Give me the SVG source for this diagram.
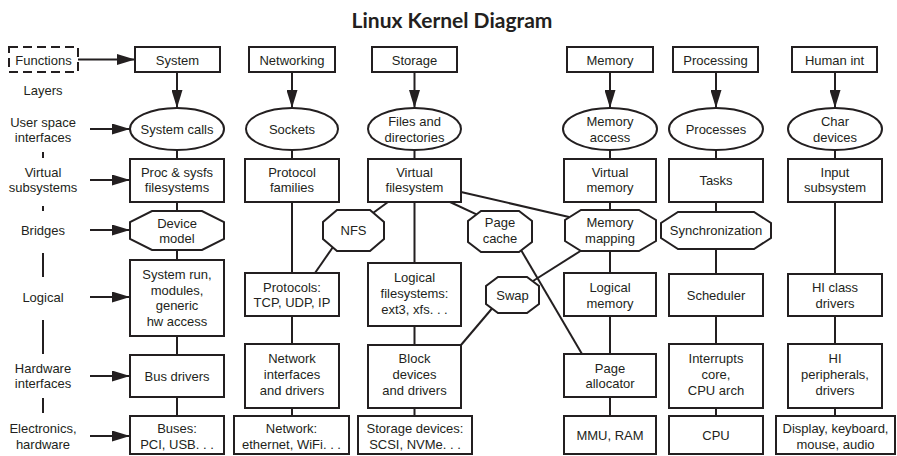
<svg xmlns="http://www.w3.org/2000/svg" width="897" height="456" viewBox="0 0 897 456">
<style>
.b{fill:#fff;stroke:#231f20;stroke-width:2}
.d{fill:#fff;stroke:#231f20;stroke-width:2;stroke-dasharray:9 5}
.t{font-family:"Liberation Sans",Arial,sans-serif;font-size:13px;fill:#231f20;text-anchor:middle}
.h{font-family:Lato,"Liberation Sans",sans-serif;font-size:21px;font-weight:bold;fill:#231f20;text-anchor:middle}
.l{stroke:#231f20;stroke-width:2;fill:none}
.a{stroke:#231f20;stroke-width:2;fill:none;marker-end:url(#arr)}
</style>
<defs>
<marker id="arr" viewBox="0 0 18 11" refX="18" refY="5.5" markerWidth="18" markerHeight="11" markerUnits="userSpaceOnUse" orient="auto">
<path d="M0,0 L18,5.5 L0,11 z" fill="#231f20"/>
</marker>
</defs>
<rect width="897" height="456" fill="#fff"/>
<text class="h" x="452" y="28">Linux Kernel Diagram</text>

<g id="connectors">
<line class="a" x1="78" y1="59.5" x2="135" y2="59.5"/>
<line class="a" x1="90" y1="129" x2="130" y2="129"/>
<line class="a" x1="90" y1="180" x2="130" y2="180"/>
<line class="a" x1="90" y1="230" x2="130" y2="230"/>
<line class="a" x1="90" y1="297" x2="130" y2="297"/>
<line class="a" x1="90" y1="376" x2="130" y2="376"/>
<line class="a" x1="90" y1="436" x2="130" y2="436"/>
<line class="l" x1="43" y1="152" x2="43" y2="158"/>
<line class="l" x1="43" y1="206" x2="43" y2="211"/>
<line class="l" x1="43" y1="253" x2="43" y2="277"/>
<line class="l" x1="43" y1="320" x2="43" y2="354"/>
<line class="l" x1="43" y1="398" x2="43" y2="413"/>
<line class="a" x1="177" y1="72" x2="177" y2="108"/>
<line class="a" x1="292" y1="72" x2="292" y2="108"/>
<line class="a" x1="414.5" y1="72" x2="414.5" y2="108"/>
<line class="a" x1="610" y1="72" x2="610" y2="108"/>
<line class="a" x1="716" y1="72" x2="716" y2="108"/>
<line class="a" x1="835" y1="72" x2="835" y2="108"/>
<path class="l" d="M177,150V159M177,202V211M177,250V260M177,336V355M177,397V416"/>
<path class="l" d="M292,150V159M292,202V273M292,316V344M292,408V416"/>
<path class="l" d="M414.5,150V159M414.5,202V263M414.5,326V345M414.5,408V416"/>
<path class="l" d="M610,150V159M610,202V210M610,251V273M610,316V354M610,397V416"/>
<path class="l" d="M716,150V159M716,202V212M716,249V274M716,316V344M716,408V416"/>
<path class="l" d="M835,150V159M835,202V274M835,316V344M835,408V416"/>
<line class="l" x1="388" y1="202" x2="373" y2="213"/>
<line class="l" x1="333" y1="247" x2="315" y2="273"/>
<line class="l" x1="461" y1="192" x2="569" y2="217"/>
<line class="l" x1="450" y1="202" x2="476.5" y2="214.3"/>
<line class="l" x1="521" y1="250" x2="582" y2="354"/>
<line class="l" x1="582" y1="250" x2="533" y2="281"/>
<line class="l" x1="492" y1="308.5" x2="461" y2="345"/>
</g>

<g id="labels">
<text class="t" x="43" y="95">Layers</text>
<text class="t" x="43" y="127">User space</text>
<text class="t" x="43" y="142">interfaces</text>
<text class="t" x="43" y="177">Virtual</text>
<text class="t" x="43" y="192">subsystems</text>
<text class="t" x="43" y="235">Bridges</text>
<text class="t" x="43" y="302">Logical</text>
<text class="t" x="43" y="373">Hardware</text>
<text class="t" x="43" y="388">interfaces</text>
<text class="t" x="43" y="433">Electronics,</text>
<text class="t" x="43" y="449">hardware</text>
</g>

<g id="functions"><rect class="d" x="9" y="47" width="69" height="25"/><text class="t" x="43.5" y="64.5">Functions</text></g>

<g id="system"><rect class="b" x="135" y="47" width="85" height="25"/><text class="t" x="177.5" y="64.5">System</text></g>
<g id="networking"><rect class="b" x="249" y="47" width="86" height="25"/><text class="t" x="292" y="64.5">Networking</text></g>
<g id="storage"><rect class="b" x="372" y="47" width="85" height="25"/><text class="t" x="414.5" y="64.5">Storage</text></g>
<g id="memory"><rect class="b" x="567" y="47" width="86" height="25"/><text class="t" x="610" y="64.5">Memory</text></g>
<g id="processing"><rect class="b" x="673" y="47" width="85" height="25"/><text class="t" x="715.5" y="64.5">Processing</text></g>
<g id="humanint"><rect class="b" x="792" y="47" width="85" height="25"/><text class="t" x="834.5" y="64.5">Human int</text></g>

<g id="systemcalls"><ellipse class="b" cx="177" cy="129" rx="47" ry="21"/><text class="t" x="177" y="134">System calls</text></g>
<g id="sockets"><ellipse class="b" cx="292" cy="129" rx="46" ry="21"/><text class="t" x="292" y="134">Sockets</text></g>
<g id="files"><ellipse class="b" cx="414.5" cy="129" rx="46.5" ry="21"/><text class="t" x="414.5" y="126">Files and</text><text class="t" x="414.5" y="142">directories</text></g>
<g id="memaccess"><ellipse class="b" cx="610" cy="129" rx="47" ry="21"/><text class="t" x="610" y="126">Memory</text><text class="t" x="610" y="142">access</text></g>
<g id="processes"><ellipse class="b" cx="716" cy="129" rx="47" ry="21"/><text class="t" x="716" y="134">Processes</text></g>
<g id="chardev"><ellipse class="b" cx="835" cy="129" rx="47" ry="21"/><text class="t" x="835" y="126">Char</text><text class="t" x="835" y="142">devices</text></g>

<g id="procsysfs"><rect class="b" x="130" y="159" width="94" height="43"/><text class="t" x="177" y="177">Proc &amp; sysfs</text><text class="t" x="177" y="192">filesystems</text></g>
<g id="protofam"><rect class="b" x="245" y="159" width="94" height="43"/><text class="t" x="292" y="177">Protocol</text><text class="t" x="292" y="192">families</text></g>
<g id="vfs"><rect class="b" x="368" y="159" width="93" height="43"/><text class="t" x="414.5" y="177">Virtual</text><text class="t" x="414.5" y="192">filesystem</text></g>
<g id="virtmem"><rect class="b" x="564" y="159" width="92" height="43"/><text class="t" x="610" y="177">Virtual</text><text class="t" x="610" y="192">memory</text></g>
<g id="tasks"><rect class="b" x="669" y="159" width="94" height="43"/><text class="t" x="716" y="185">Tasks</text></g>
<g id="input"><rect class="b" x="788" y="159" width="94" height="43"/><text class="t" x="835" y="177">Input</text><text class="t" x="835" y="192">subsystem</text></g>

<g id="devicemodel"><polygon class="b" points="152,211 202,211 224,222 224,239 202,250 152,250 130,239 130,222"/><text class="t" x="177" y="228">Device</text><text class="t" x="177" y="243">model</text></g>
<g id="nfs"><polygon class="b" points="337,210 370,210 384,222 384,239 370,251 337,251 323,239 323,222"/><text class="t" x="353.5" y="235">NFS</text></g>
<g id="pagecache"><polygon class="b" points="481,211 519,211 532,221 532,242 519,252 481,252 468,242 468,221"/><text class="t" x="500" y="227">Page</text><text class="t" x="500" y="243">cache</text></g>
<g id="memmap"><polygon class="b" points="581,210 639,210 656,220 656,241 639,251 581,251 565,241 565,220"/><text class="t" x="610" y="227">Memory</text><text class="t" x="610" y="243">mapping</text></g>
<g id="sync"><polygon class="b" points="678,212 754,212 771,223 771,238 754,249 678,249 661,238 661,223"/><text class="t" x="716" y="235">Synchronization</text></g>
<g id="swap"><polygon class="b" points="498,277 527,277 539,286 539,304 527,313 498,313 486,304 486,286"/><text class="t" x="512.5" y="300">Swap</text></g>

<g id="sysrun"><rect class="b" x="130" y="260" width="94" height="76"/><text class="t" x="177" y="279">System run,</text><text class="t" x="177" y="294.5">modules,</text><text class="t" x="177" y="310">generic</text><text class="t" x="177" y="325.5">hw access</text></g>
<g id="protocols"><rect class="b" x="245" y="273" width="94" height="43"/><text class="t" x="292" y="292">Protocols:</text><text class="t" x="292" y="307">TCP, UDP, IP</text></g>
<g id="logfs"><rect class="b" x="368" y="263" width="93" height="63"/><text class="t" x="414.5" y="282">Logical</text><text class="t" x="414.5" y="298">filesystems:</text><text class="t" x="414.5" y="314">ext3, xfs. . .</text></g>
<g id="logmem"><rect class="b" x="564" y="273" width="92" height="43"/><text class="t" x="610" y="292">Logical</text><text class="t" x="610" y="308">memory</text></g>
<g id="scheduler"><rect class="b" x="669" y="274" width="94" height="42"/><text class="t" x="716" y="300">Scheduler</text></g>
<g id="hiclass"><rect class="b" x="788" y="274" width="94" height="42"/><text class="t" x="835" y="292">HI class</text><text class="t" x="835" y="308">drivers</text></g>

<g id="busdrivers"><rect class="b" x="130" y="355" width="94" height="42"/><text class="t" x="177" y="381">Bus drivers</text></g>
<g id="netif"><rect class="b" x="245" y="344" width="94" height="64"/><text class="t" x="292" y="363">Network</text><text class="t" x="292" y="379">interfaces</text><text class="t" x="292" y="395">and drivers</text></g>
<g id="blockdev"><rect class="b" x="368" y="345" width="93" height="63"/><text class="t" x="414.5" y="363">Block</text><text class="t" x="414.5" y="379">devices</text><text class="t" x="414.5" y="395">and drivers</text></g>
<g id="pagealloc"><rect class="b" x="564" y="354" width="92" height="43"/><text class="t" x="610" y="373">Page</text><text class="t" x="610" y="388">allocator</text></g>
<g id="interrupts"><rect class="b" x="669" y="344" width="94" height="64"/><text class="t" x="716" y="363">Interrupts</text><text class="t" x="716" y="379">core,</text><text class="t" x="716" y="395">CPU arch</text></g>
<g id="hiperiph"><rect class="b" x="788" y="344" width="94" height="64"/><text class="t" x="835" y="363">HI</text><text class="t" x="835" y="379">peripherals,</text><text class="t" x="835" y="395">drivers</text></g>

<g id="buses"><rect class="b" x="130" y="416" width="94" height="38"/><text class="t" x="177" y="433">Buses:</text><text class="t" x="177" y="449">PCI, USB. . .</text></g>
<g id="network"><rect class="b" x="234" y="416" width="115" height="38"/><text class="t" x="291.5" y="433">Network:</text><text class="t" x="291.5" y="449">ethernet, WiFi. . .</text></g>
<g id="storagedev"><rect class="b" x="358" y="416" width="114" height="38"/><text class="t" x="415" y="433">Storage devices:</text><text class="t" x="415" y="449">SCSI, NVMe. . .</text></g>
<g id="mmu"><rect class="b" x="564" y="416" width="92" height="38"/><text class="t" x="610" y="440">MMU, RAM</text></g>
<g id="cpu"><rect class="b" x="669" y="416" width="94" height="38"/><text class="t" x="716" y="440">CPU</text></g>
<g id="display"><rect class="b" x="776" y="416" width="119" height="38"/><text class="t" x="835.5" y="433">Display, keyboard,</text><text class="t" x="835.5" y="449">mouse, audio</text></g>
</svg>
